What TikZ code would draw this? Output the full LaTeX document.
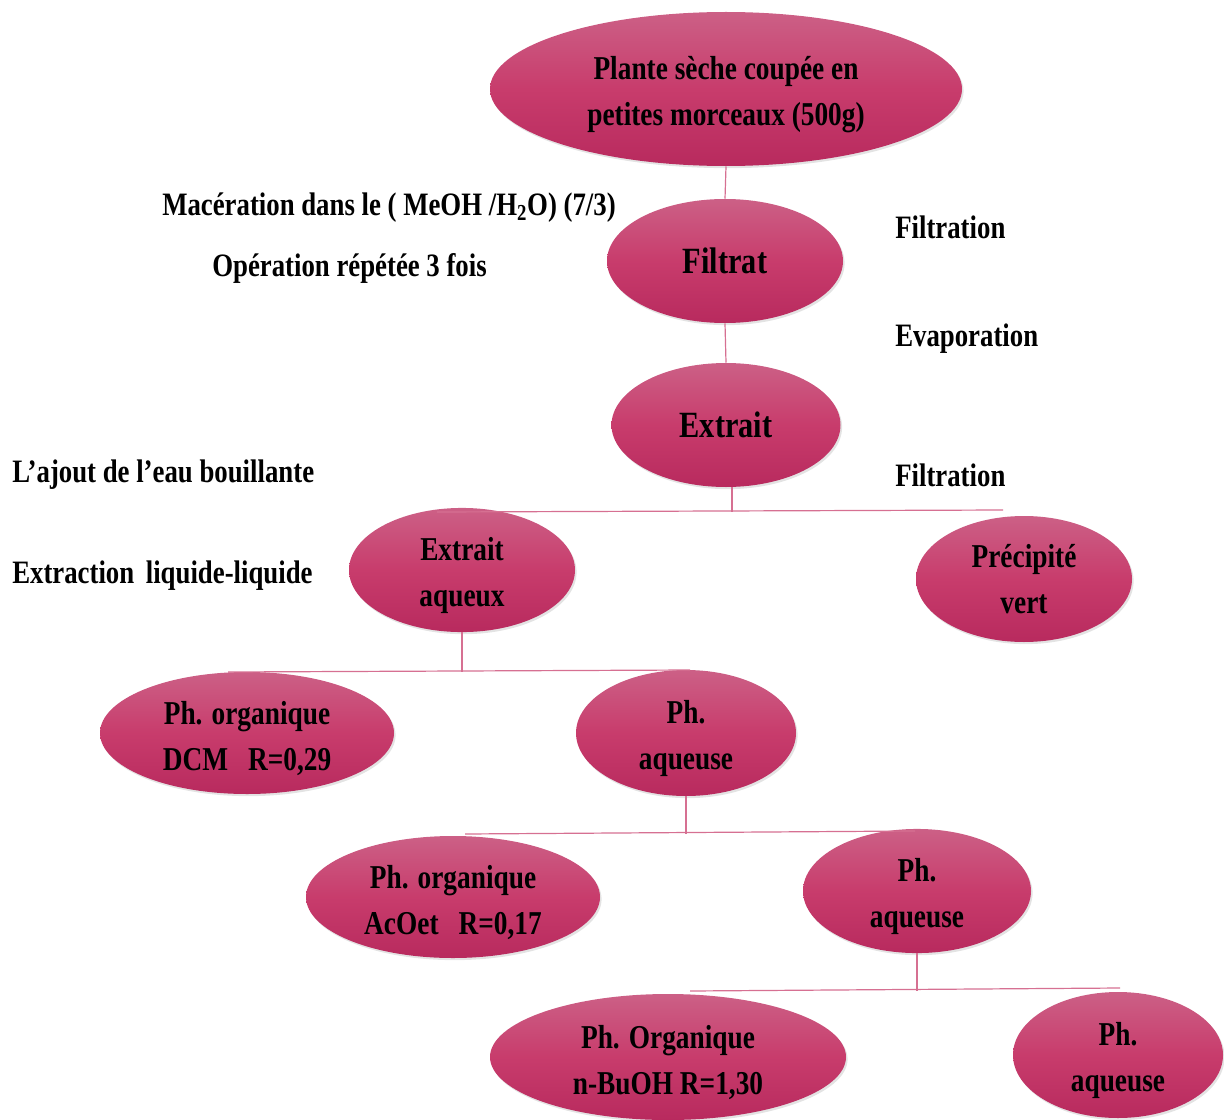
\documentclass[tikz,border=0pt]{standalone}
\usepackage{fontspec}
\setmainfont{Liberation Serif}[FakeStretch=0.82]
\usetikzlibrary{shapes.geometric,shadows}
\definecolor{elltop}{RGB}{204,96,134}
\definecolor{ellmid}{RGB}{200,60,108}
\definecolor{ellbot}{RGB}{184,42,94}
\definecolor{conncol}{RGB}{214,112,146}
\newcommand{\dn}{\rule{0pt}{26pt}}
\tikzset{
  ell/.style={ellipse, inner sep=0pt, align=center, top color=elltop, bottom color=ellbot, middle color=ellmid,
    drop shadow={opacity=0.22, shadow xshift=1.2pt, shadow yshift=-1.6pt},
    font=\bfseries\fontsize{25}{34.5}\selectfont},
  bigell/.style={ell, font=\bfseries\fontsize{27.75}{34.5}\selectfont},
  conn/.style={draw=conncol, line width=0.9pt},
  lbl/.style={anchor=west, inner sep=0pt, font=\bfseries\fontsize{24.5}{34.5}\selectfont}
}
\begin{document}
\begin{tikzpicture}[x=0.75pt, y=-0.75pt]
\useasboundingbox (0,0) rectangle (1224,1120);
\node[ell, minimum width=354pt, minimum height=115.5pt] (top) at (726,89) {\dn Plante sèche coupée en\\petites morceaux (500g)};
\node[bigell, minimum width=177pt, minimum height=93pt] (filtrat) at (725,261) {Filtrat};
\node[bigell, minimum width=171.75pt, minimum height=93pt] (extrait) at (726,425) {Extrait};
\node[ell, minimum width=169.5pt, minimum height=90pt] (exaq) at (462,570) {\dn Extrait\\aqueux};
\node[ell, minimum width=162pt, minimum height=94.5pt] (prec) at (1024,579) {Précipité\\vert};
\node[ell, minimum width=220.5pt, minimum height=91.5pt] (dcm) at (247,733) {\dn Ph. organique\\DCM\hspace{0.6em}R=0,29};
\node[ell, minimum width=165pt, minimum height=94.5pt] (aqa) at (686,733) {\dn Ph.\\aqueuse};
\node[ell, minimum width=220.5pt, minimum height=91.5pt] (acoet) at (453,897) {\dn Ph. organique\\AcOet\hspace{0.6em}R=0,17};
\node[ell, minimum width=171pt, minimum height=93pt] (aqb) at (917,891) {\dn Ph.\\aqueuse};
\node[ell, minimum width=267pt, minimum height=94.5pt] (buoh) at (668,1057) {\dn Ph. Organique\\n-BuOH R=1,30};
\node[ell, minimum width=157.5pt, minimum height=94.5pt] (aqc) at (1118,1055) {\dn Ph.\\aqueuse};
% bars
\coordinate (barAL) at (437,512);
\coordinate (barAR) at (1003,510);
\coordinate (barBL) at (228,672);
\coordinate (barBR) at (690,670);
\coordinate (barCL) at (465,834);
\coordinate (barCR) at (915,831);
\coordinate (barDL) at (690,991);
\coordinate (barDR) at (1120,988);
\draw[conn] (top.south) -- (filtrat.north);
\draw[conn] (filtrat.south) -- (extrait.north);
\draw[conn] ([xshift=4.5pt]extrait.south) -- ([xshift=4.5pt]extrait.south |- barAL);
\draw[conn] (barAL) -- (barAR);
\draw[conn] (exaq.south) -- (exaq.south |- barBL);
\draw[conn] (barBL) -- (barBR);
\draw[conn] (aqa.south) -- (aqa.south |- barCL);
\draw[conn] (barCL) -- (barCR);
\draw[conn] (aqb.south) -- (aqb.south |- barDL);
\draw[conn] (barDL) -- (barDR);
% side labels
\node[lbl] (l1) at (162,208) {Macération dans le ( MeOH /H\textsubscript{2}O) (7/3)};
\node[lbl] (l2) at (212,268) {Opération répétée 3 fois};
\node[lbl] (l3) at (895,227) {Filtration};
\node[lbl] (l4) at (895,339) {Evaporation};
\node[lbl] (l5) at (12,475) {L’ajout de l’eau bouillante};
\node[lbl] (l6) at (895,475) {Filtration};
\node[lbl] (l7) at (12,576) {Extraction\hspace{0.15em} liquide-liquide};
\end{tikzpicture}
\end{document}
